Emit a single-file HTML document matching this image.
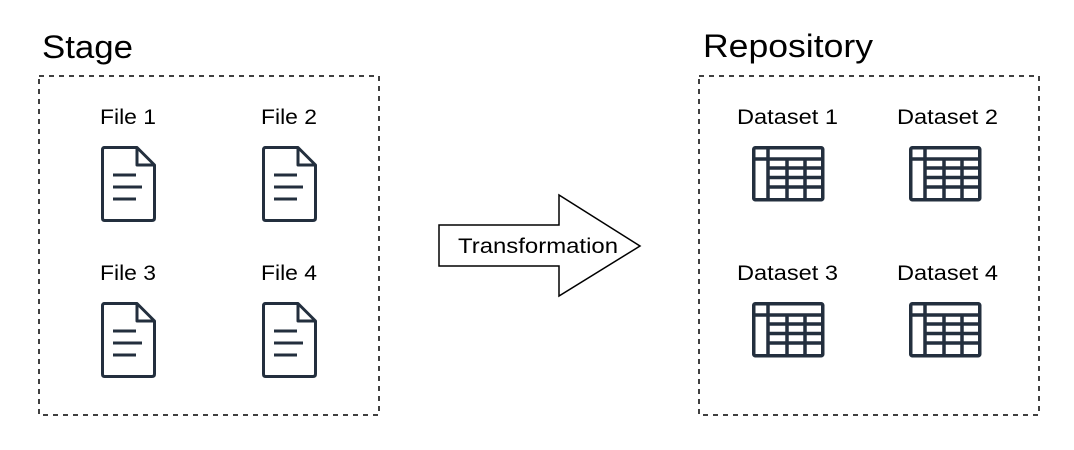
<!DOCTYPE html>
<html><head><meta charset="utf-8"><style>html,body{margin:0;padding:0;background:#fff;}svg{display:block}</style></head>
<body>
<svg width="1074" height="450" viewBox="0 0 1074 450" xmlns="http://www.w3.org/2000/svg" font-family="Liberation Sans, Arial, sans-serif">
<defs>
<g id="file" fill="none" stroke="#232f3e" stroke-width="3" stroke-linejoin="round">
  <path d="M3,1.5 H36 L53.5,19 V72 Q53.5,74.5 51,74.5 H3.5 Q1.5,74.5 1.5,72 V4 Q1.5,1.5 3.5,1.5 Z"/>
  <path d="M36,1.5 V19 H53.5"/>
  <path d="M12,29 H35 M12,41 H41 M12,53 H35" stroke-linecap="butt"/>
</g>
<g id="table" fill="none" stroke="#232f3e" stroke-width="3.5">
  <rect x="1.75" y="1.75" width="69" height="52" rx="1.5"/>
  <path d="M1.75,13 H70.75 M16,1.75 V53.75 M16,22 H70.75 M16,31.5 H70.75 M16,41 H70.75 M35,13 V53.75 M53,13 V53.75"/>
</g>
</defs>
<text x="42" y="58" font-size="32" textLength="91" lengthAdjust="spacingAndGlyphs">Stage</text>
<text x="703" y="57" font-size="32" textLength="170" lengthAdjust="spacingAndGlyphs">Repository</text>
<rect x="39" y="76" width="340" height="339" fill="none" stroke="#000" stroke-width="1.5" stroke-dasharray="5,5"/>
<rect x="699" y="76" width="340" height="339" fill="none" stroke="#000" stroke-width="1.5" stroke-dasharray="5,5"/>
<g font-size="21" fill="#000" lengthAdjust="spacingAndGlyphs">
<text x="100" y="124" textLength="56" lengthAdjust="spacingAndGlyphs">File 1</text>
<text x="261" y="124" textLength="56" lengthAdjust="spacingAndGlyphs">File 2</text>
<text x="100" y="280" textLength="56" lengthAdjust="spacingAndGlyphs">File 3</text>
<text x="261" y="280" textLength="56" lengthAdjust="spacingAndGlyphs">File 4</text>
<text x="737" y="124" textLength="101" lengthAdjust="spacingAndGlyphs">Dataset 1</text>
<text x="897" y="124" textLength="101" lengthAdjust="spacingAndGlyphs">Dataset 2</text>
<text x="737" y="280" textLength="101" lengthAdjust="spacingAndGlyphs">Dataset 3</text>
<text x="897" y="280" textLength="101" lengthAdjust="spacingAndGlyphs">Dataset 4</text>
</g>
<use href="#file" x="101" y="146"/>
<use href="#file" x="262" y="146"/>
<use href="#file" x="101" y="302"/>
<use href="#file" x="262" y="302"/>
<use href="#table" x="752" y="146"/>
<use href="#table" x="909" y="146"/>
<use href="#table" x="752" y="302"/>
<use href="#table" x="909" y="302"/>
<path d="M439,225 H559 V195 L640,246 L559,296 V266 H439 Z" fill="#fff" stroke="#000" stroke-width="1.5"/>
<text x="458" y="253" font-size="21" textLength="160" lengthAdjust="spacingAndGlyphs">Transformation</text>
</svg>
</body></html>
